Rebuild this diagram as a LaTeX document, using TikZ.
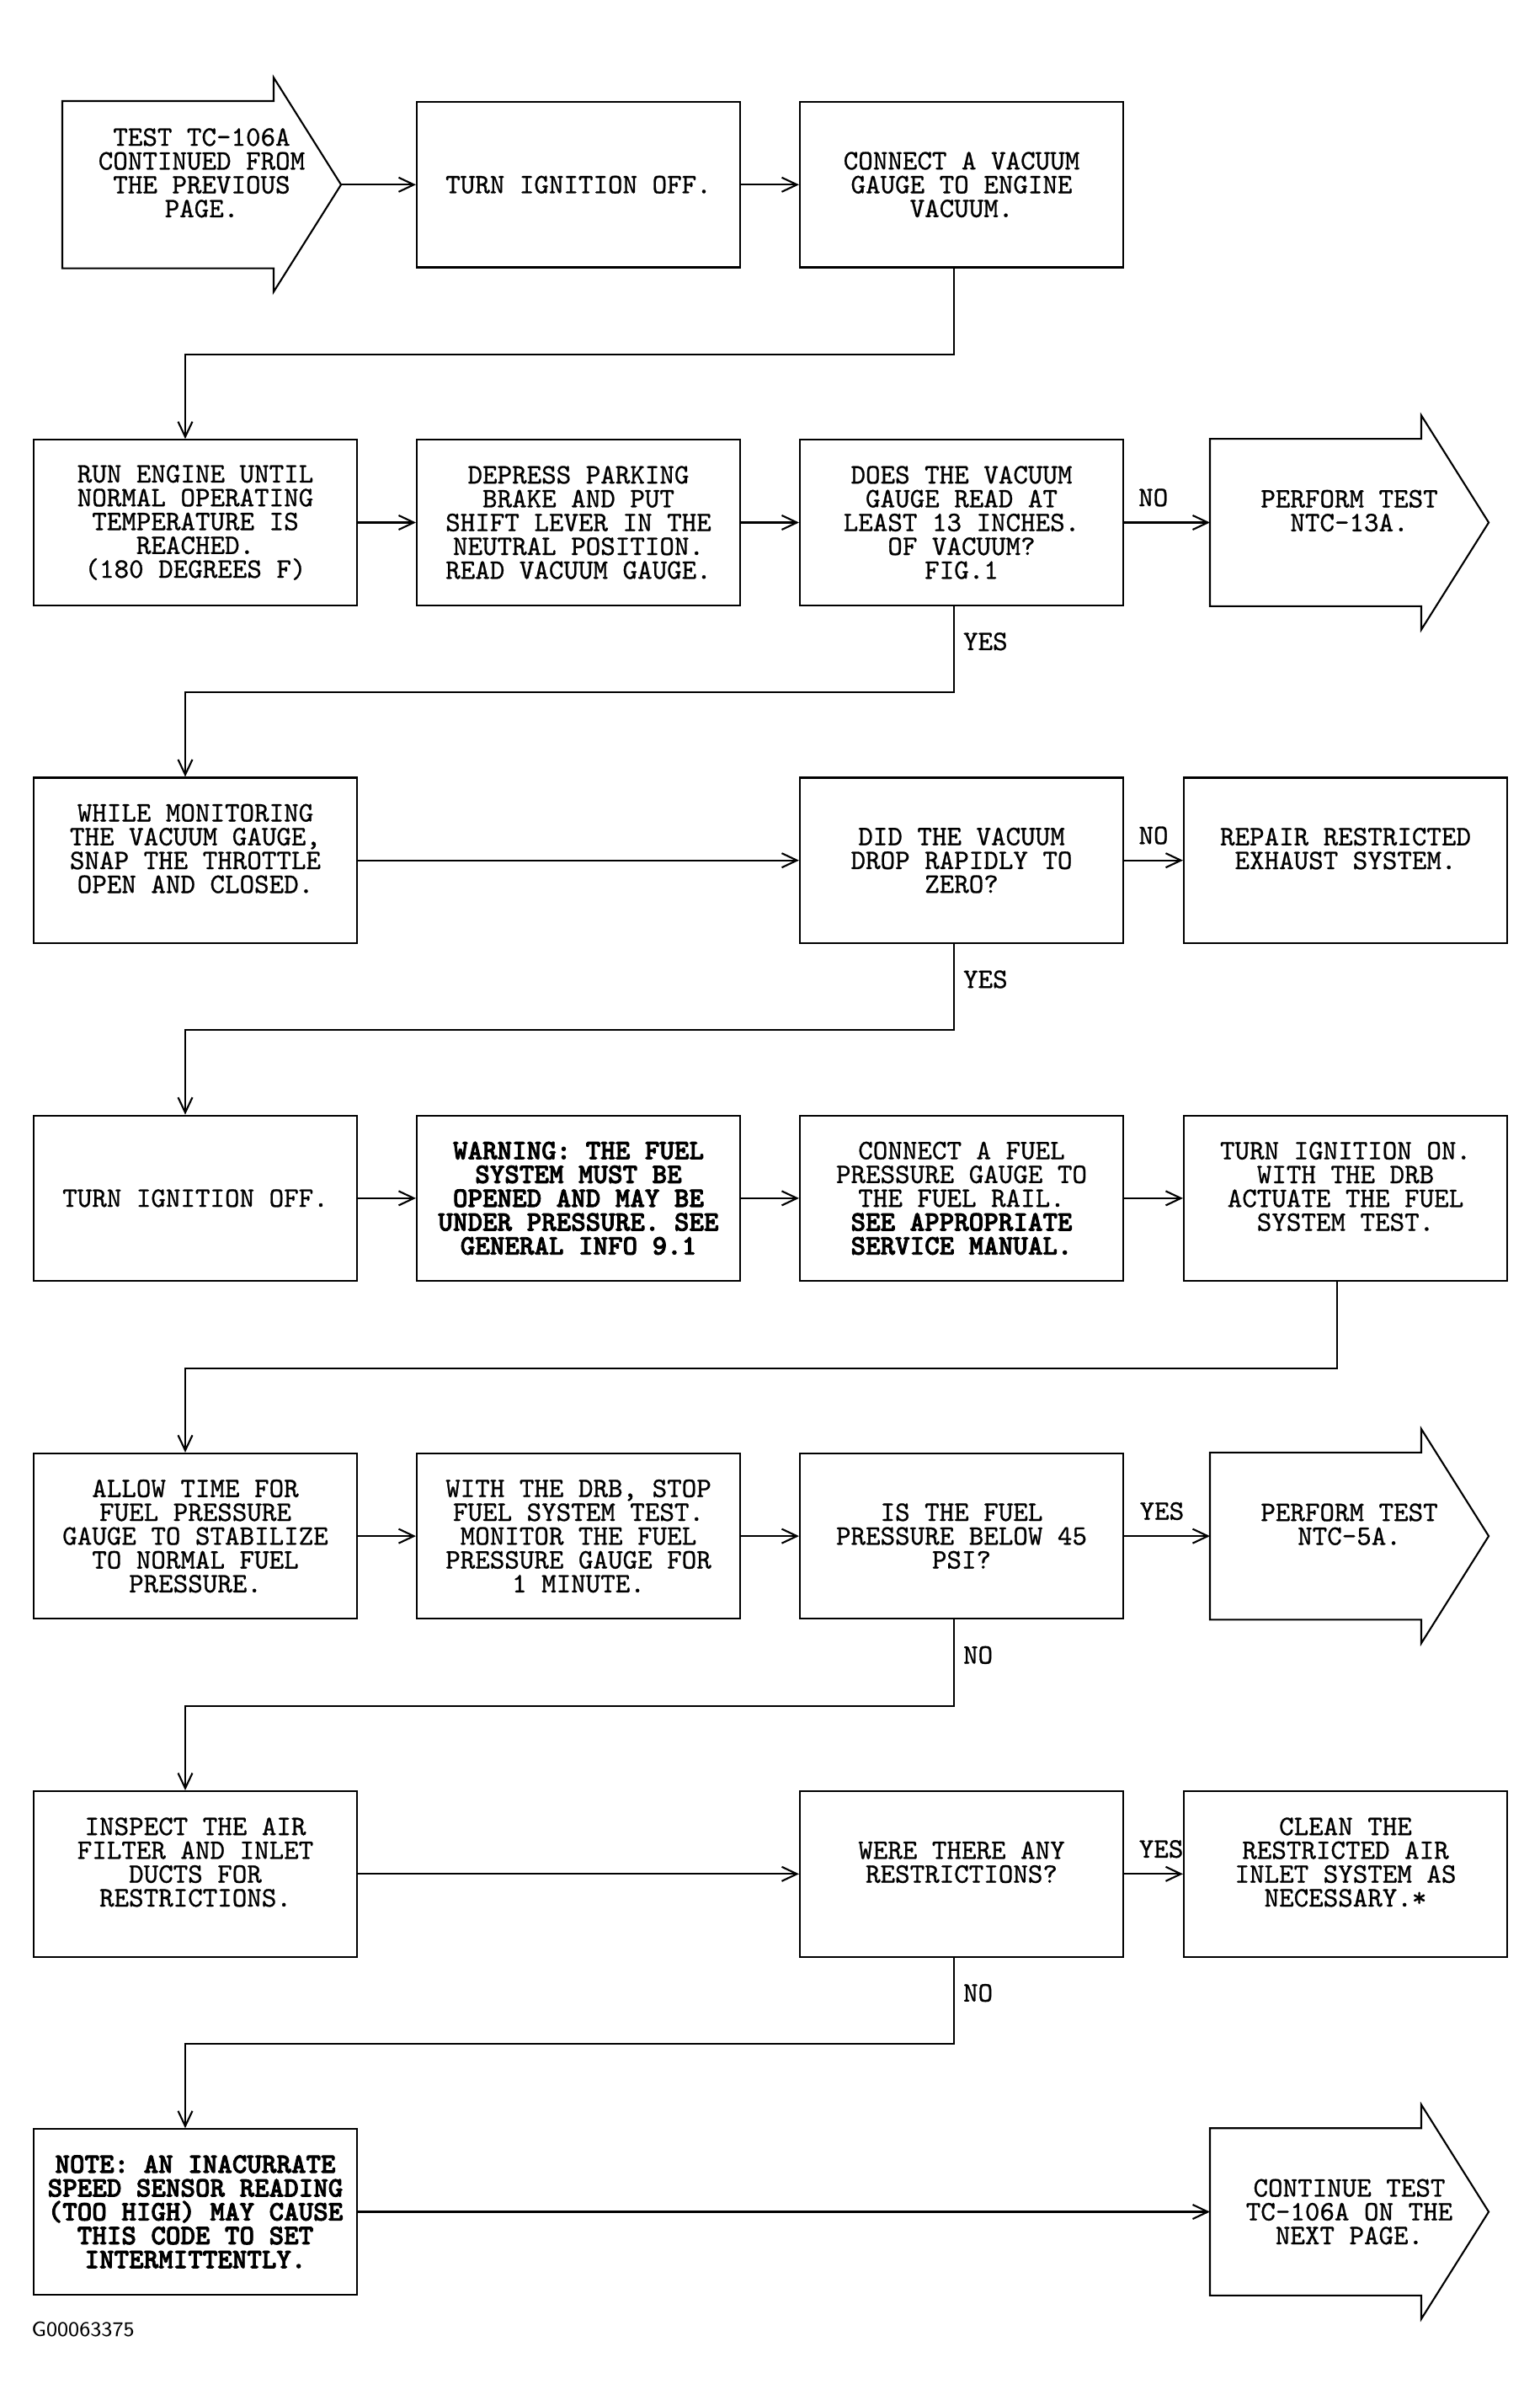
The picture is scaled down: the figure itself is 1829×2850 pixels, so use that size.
\documentclass[tikz,border=0pt]{standalone}
\usepackage{fontspec}
\setmainfont{Liberation Sans}
\setmonofont{lmmono10-regular.otf}[FakeBold=0.8, BoldFont=lmmonolt10-bold.otf, BoldFeatures={FakeBold=2.5}]
\usetikzlibrary{arrows.meta}

\tikzset{
  stepbox/.style={draw, line width=0.6pt, minimum width=38.4mm, minimum height=19.65mm,
    inner sep=0.5mm, align=center, font=\ttfamily\fontsize{9.5}{8.05}\selectfont},
  pagearrow/.style={stepbox, draw=none, minimum width=32.9mm},
  conn/.style={line width=0.6pt, -{Straight Barb[length=1.8mm,width=1.7mm]}},
  answer/.style={font=\ttfamily\fontsize{9.5}{8.05}\selectfont, inner sep=0pt},
}

\begin{document}
\begin{tikzpicture}[x=0.1mm, y=-0.1mm]
    % Parametry
    \def\colA{232}  \def\colB{687}  \def\colC{1142} \def\colD{1598}
    \def\rowA{219.3} \def\rowB{620.5} \def\rowC{1021.7} \def\rowD{1422.9}
    \def\rowE{1824.1} \def\rowF{2225.3} \def\rowG{2626.5}
    \def\half{102.4} % polowa odstepu miedzy rzedami

    % Obrys strzalki (przejscie na inna strone)
    \def\arrowoutline#1{\draw[line width=0.6pt] (#1.north west) -- ([xshift=25.1mm]#1.north west)
        -- ++(0,2.8mm) -- (#1.east) -- ([xshift=25.1mm,yshift=-2.8mm]#1.south west)
        -- ([xshift=25.1mm]#1.south west) -- (#1.south west) -- cycle;}

    \useasboundingbox (0,0) rectangle (1829,2850);

    % Rzad 1
    \node[pagearrow] (start) at (239.5,\rowA) {TEST TC-106A\\CONTINUED FROM\\THE PREVIOUS\\PAGE.\\~};
    \arrowoutline{start}
    \node[stepbox] (r1b) at (\colB,\rowA) {TURN IGNITION OFF.};
    \node[stepbox] (r1c) at (\colC,\rowA) {CONNECT A VACUUM\\GAUGE TO ENGINE\\VACUUM.};

    % Rzad 2
    \node[stepbox] (r2a) at (\colA,\rowB) {RUN ENGINE UNTIL\\NORMAL OPERATING\\TEMPERATURE IS\\REACHED.\\(180 DEGREES F)};
    \node[stepbox] (r2b) at (\colB,\rowB) {DEPRESS PARKING\\BRAKE AND PUT\\SHIFT LEVER IN THE\\NEUTRAL POSITION.\\READ VACUUM GAUGE.};
    \node[stepbox] (r2c) at (\colC,\rowB) {DOES THE VACUUM\\GAUGE READ AT\\LEAST 13 INCHES.\\OF VACUUM?\\FIG.1};
    \node[pagearrow] (r2d) at (1602.5,\rowB) {PERFORM TEST\\NTC-13A.\\~};
    \arrowoutline{r2d}

    % Rzad 3
    \node[stepbox] (r3a) at (\colA,\rowC) {WHILE MONITORING\\THE VACUUM GAUGE,\\SNAP THE THROTTLE\\OPEN AND CLOSED.\\~};
    \node[stepbox] (r3c) at (\colC,\rowC) {DID THE VACUUM\\DROP RAPIDLY TO\\ZERO?};
    \node[stepbox] (r3d) at (\colD,\rowC) {REPAIR RESTRICTED\\EXHAUST SYSTEM.\\~};

    % Rzad 4
    \node[stepbox] (r4a) at (\colA,\rowD) {TURN IGNITION OFF.};
    \node[stepbox, font=\ttfamily\bfseries\fontsize{9.5}{8.05}\selectfont] (r4b) at (\colB,\rowD)
        {WARNING: THE FUEL\\SYSTEM MUST BE\\OPENED AND MAY BE\\UNDER PRESSURE. SEE\\GENERAL INFO 9.1};
    \node[stepbox] (r4c) at (\colC,\rowD) {CONNECT A FUEL\\PRESSURE GAUGE TO\\THE FUEL RAIL.\\\textbf{SEE APPROPRIATE}\\\textbf{SERVICE MANUAL.}};
    \node[stepbox] (r4d) at (\colD,\rowD) {TURN IGNITION ON.\\WITH THE DRB\\ACTUATE THE FUEL\\SYSTEM TEST.\\~};

    % Rzad 5
    \node[stepbox] (r5a) at (\colA,\rowE) {ALLOW TIME FOR\\FUEL PRESSURE\\GAUGE TO STABILIZE\\TO NORMAL FUEL\\PRESSURE.};
    \node[stepbox] (r5b) at (\colB,\rowE) {WITH THE DRB, STOP\\FUEL SYSTEM TEST.\\MONITOR THE FUEL\\PRESSURE GAUGE FOR\\1 MINUTE.};
    \node[stepbox] (r5c) at (\colC,\rowE) {IS THE FUEL\\PRESSURE BELOW 45\\PSI?};
    \node[pagearrow] (r5d) at (1602.5,\rowE) {PERFORM TEST\\NTC-5A.\\~};
    \arrowoutline{r5d}

    % Rzad 6
    \node[stepbox] (r6a) at (\colA,\rowF) {INSPECT THE AIR\\FILTER AND INLET\\DUCTS FOR\\RESTRICTIONS.\\~};
    \node[stepbox] (r6c) at (\colC,\rowF) {WERE THERE ANY\\RESTRICTIONS?\\~};
    \node[stepbox] (r6d) at (\colD,\rowF) {CLEAN THE\\RESTRICTED AIR\\INLET SYSTEM AS\\NECESSARY.*\\~};

    % Rzad 7
    \node[stepbox, font=\ttfamily\bfseries\fontsize{9.5}{8.05}\selectfont] (r7a) at (\colA,\rowG)
        {NOTE: AN INACURRATE\\SPEED SENSOR READING\\(TOO HIGH) MAY CAUSE\\THIS CODE TO SET\\INTERMITTENTLY.};
    \node[pagearrow] (r7d) at (1602.5,\rowG) {CONTINUE TEST\\TC-106A ON THE\\NEXT PAGE.};
    \arrowoutline{r7d}

    % Numer rysunku
    \node[anchor=west, inner sep=0pt, font=\sffamily\fontsize{7}{8}\selectfont] (fig) at (37,2766) {G00063375};

    % Polaczenia
    \draw[conn] (start) -- (r1b);
    \draw[conn] (r1b) -- (r1c);
    \draw[conn] ([xshift=-0.9mm]r1c.south) -- ++(0,\half) -| ([xshift=-1.2mm]r2a.north);

    \draw[conn] (r2a) -- (r2b);
    \draw[conn] (r2b) -- (r2c);
    \draw[conn] (r2c) -- node[answer, above=1.8mm, pos=0.34] {NO} (r2d);
    \draw[conn] ([xshift=-0.9mm]r2c.south) -- node[answer, right=1mm, pos=0.41] {YES} ++(0,\half) -| ([xshift=-1.2mm]r3a.north);

    \draw[conn] (r3a) -- (r3c);
    \draw[conn] (r3c) -- node[answer, above=1.8mm, pos=0.5] {NO} (r3d);
    \draw[conn] ([xshift=-0.9mm]r3c.south) -- node[answer, right=1mm, pos=0.41] {YES} ++(0,\half) -| ([xshift=-1.2mm]r4a.north);

    \draw[conn] (r4a) -- (r4b);
    \draw[conn] (r4b) -- (r4c);
    \draw[conn] (r4c) -- (r4d);
    \draw[conn] ([xshift=-1mm]r4d.south) -- ++(0,\half) -| ([xshift=-1.2mm]r5a.north);

    \draw[conn] (r5a) -- (r5b);
    \draw[conn] (r5b) -- (r5c);
    \draw[conn] (r5c) -- node[answer, above=1.8mm, pos=0.44] {YES} (r5d);
    \draw[conn] ([xshift=-0.9mm]r5c.south) -- node[answer, right=1mm, pos=0.41] {NO} ++(0,\half) -| ([xshift=-1.2mm]r6a.north);

    \draw[conn] (r6a) -- (r6c);
    \draw[conn] (r6c) -- node[answer, above=1.8mm, pos=0.63] {YES} (r6d);
    \draw[conn] ([xshift=-0.9mm]r6c.south) -- node[answer, right=1mm, pos=0.41] {NO} ++(0,\half) -| ([xshift=-1.2mm]r7a.north);

    \draw[conn] (r7a) -- (r7d);
\end{tikzpicture}
\end{document}
